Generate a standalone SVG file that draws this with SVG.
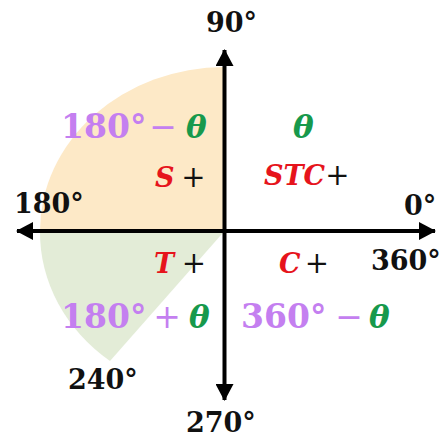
<svg xmlns="http://www.w3.org/2000/svg" width="447" height="439" viewBox="0 0 447 439">
<style>
.ax{font-family:"DejaVu Serif","Liberation Serif",serif;font-weight:bold;font-size:27px;fill:#111}
.pu{font-family:"DejaVu Serif","Liberation Serif",serif;font-weight:bold;font-size:33px;fill:#c47ff0}
.op{font-family:"DejaVu Serif","Liberation Serif",serif;font-weight:normal;font-size:33px;fill:#c47ff0;text-anchor:middle}
.th{font-family:"DejaVu Serif","Liberation Serif",serif;font-weight:bold;font-style:italic;font-size:31px;fill:#17994c}
.rd{font-family:"DejaVu Serif","Liberation Serif",serif;font-weight:bold;font-style:italic;font-size:27px;fill:#e6141c}
.pl{font-family:"DejaVu Serif","Liberation Serif",serif;font-weight:normal;font-size:29px;fill:#111;text-anchor:middle}
.axis{stroke:#000;stroke-width:4;fill:none}
</style>
<defs>
<marker id="ah" markerUnits="userSpaceOnUse" markerWidth="18" markerHeight="18" refX="16" refY="9" orient="auto">
<path d="M0,0 L17,9 L0,18 Z" fill="#000"/>
</marker>
</defs>
<g id="sectors">
<path id="q2" d="M224.5,231 L224.5,67 A184.5,164 0 0 0 40,231 Z" fill="#fde9c7"/>
<path id="q3" d="M224.5,231 L40,231 A184.5,164 0 0 0 110,361 Z" fill="#e3ecd7"/>
</g>
<g id="connectors">
<line class="axis" x1="224.5" y1="231" x2="224.5" y2="50" marker-end="url(#ah)"/>
<line class="axis" x1="224.5" y1="231" x2="224.5" y2="400" marker-end="url(#ah)"/>
<line class="axis" x1="224.5" y1="231" x2="17" y2="231" marker-end="url(#ah)"/>
<line class="axis" x1="224.5" y1="231" x2="435" y2="231" marker-end="url(#ah)"/>
</g>
<g id="angle-labels">
<text class="ax" x="206" y="32">90°</text>
<text class="ax" x="14" y="213">180°</text>
<text class="ax" x="404" y="215">0°</text>
<text class="ax" x="371" y="270">360°</text>
<text class="ax" x="68" y="389">240°</text>
<text class="ax" x="186" y="432">270°</text>
</g>
<g id="quadrant1">
<text class="th" x="293" y="138">θ</text>
<text class="rd" x="264" y="185">STC</text>
<text class="pl" x="337.5" y="185">+</text>
</g>
<g id="quadrant2">
<text class="pu" x="61" y="138">180°</text>
<text class="op" x="163" y="138">−</text>
<text class="th" x="186" y="138">θ</text>
<text class="rd" x="155" y="187">S</text>
<text class="pl" x="193.5" y="187">+</text>
</g>
<g id="quadrant3">
<text class="rd" x="154" y="273">T</text>
<text class="pl" x="194" y="273">+</text>
<text class="pu" x="61" y="328">180°</text>
<text class="op" x="167" y="328">+</text>
<text class="th" x="189" y="328">θ</text>
</g>
<g id="quadrant4">
<text class="rd" x="279" y="273">C</text>
<text class="pl" x="317" y="273">+</text>
<text class="pu" x="241" y="328">360°</text>
<text class="op" x="349" y="328">−</text>
<text class="th" x="369" y="328">θ</text>
</g>
</svg>
